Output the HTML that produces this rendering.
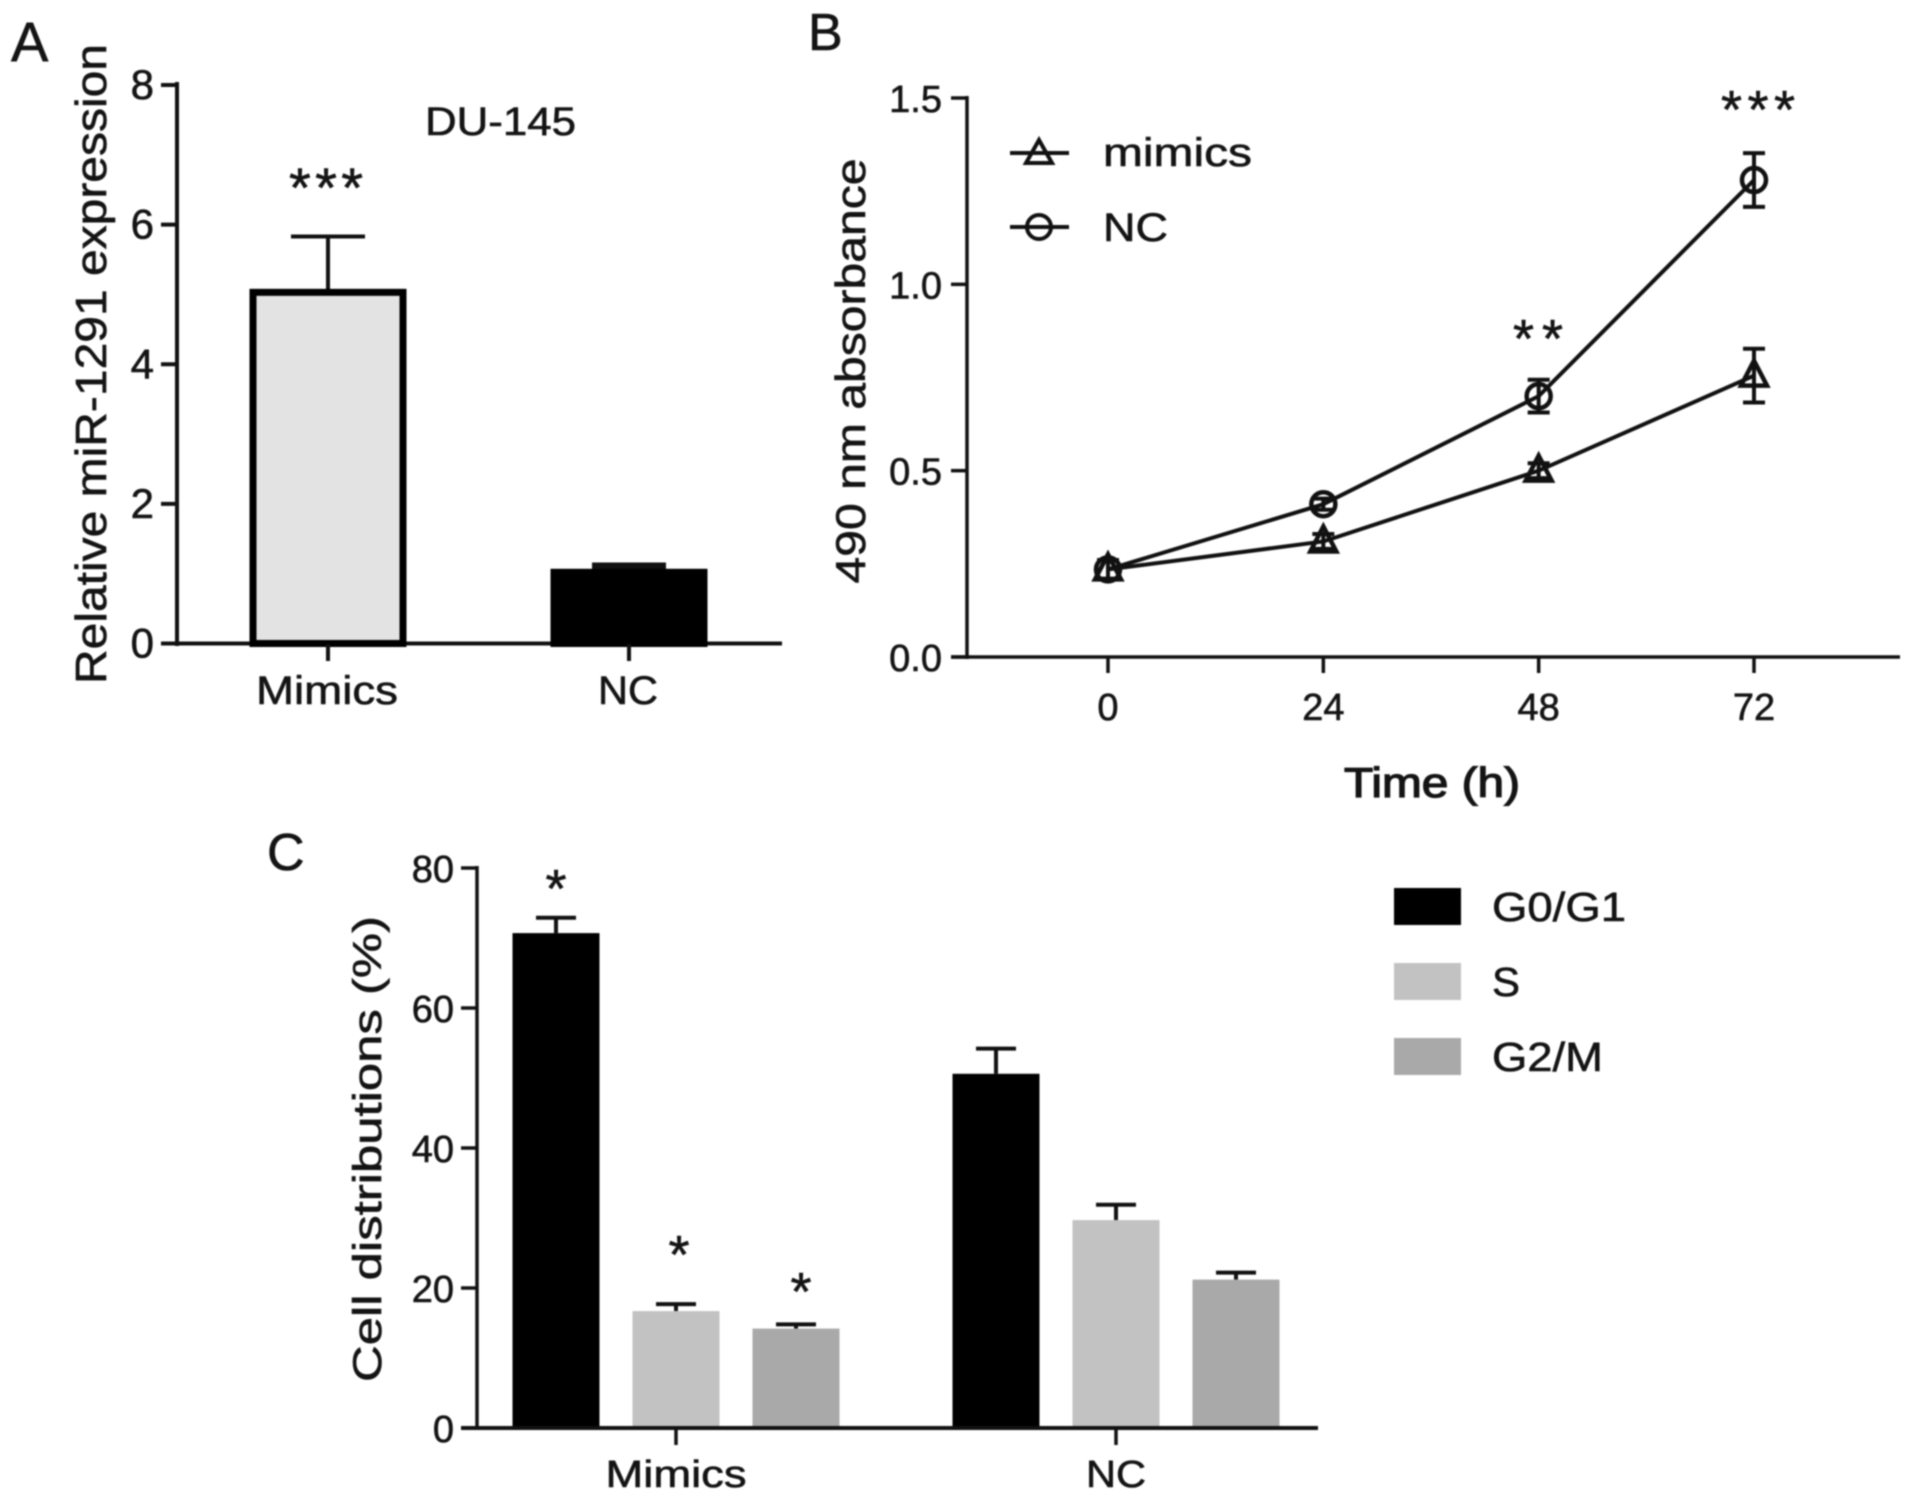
<!DOCTYPE html>
<html lang="en">
<head>
<meta charset="utf-8">
<title>miR-1291 figure</title>
<style>
html,body{margin:0;padding:0;background:#fff;}
svg{display:block;filter:blur(0.7px);}
text{font-family:"Liberation Sans",sans-serif;fill:#141414;stroke:#141414;stroke-width:0.6px;}
</style>
</head>
<body>
<svg id="fig" xmlns="http://www.w3.org/2000/svg" width="1913" height="1501" viewBox="0 0 1913 1501">
  <rect x="0" y="0" width="1913" height="1501" fill="#fff"/>
  <text x="11" y="61" font-size="56">A</text>
  <text x="808" y="50" font-size="52">B</text>
  <text x="267" y="870" font-size="52">C</text>

  <text transform="translate(106,364) rotate(-90)" text-anchor="middle" font-size="44" textLength="640" lengthAdjust="spacingAndGlyphs">Relative miR-1291 expression</text>
  <text x="425" y="135" font-size="40" textLength="151" lengthAdjust="spacingAndGlyphs">DU-145</text>
  <text x="326" y="207" font-size="56" text-anchor="middle" textLength="74" lengthAdjust="spacing">***</text>

  <text transform="translate(865,371) rotate(-90)" text-anchor="middle" font-size="42" textLength="425" lengthAdjust="spacingAndGlyphs">490 nm absorbance</text>
  <text x="1344" y="797" font-size="42" style="stroke-width:1.3px" textLength="176" lengthAdjust="spacingAndGlyphs">Time (h)</text>
  <text x="1538" y="357" font-size="54" text-anchor="middle" textLength="50" lengthAdjust="spacing">**</text>
  <text x="1758" y="128" font-size="54" text-anchor="middle" textLength="74" lengthAdjust="spacing">***</text>
  <line x1="1010" y1="153" x2="1069" y2="153" stroke="#111" stroke-width="4"/>
  <polygon points="1039,140 1052,163 1026,163" fill="none" stroke="#111" stroke-width="4"/>
  <text x="1103" y="166" font-size="40" textLength="149" lengthAdjust="spacingAndGlyphs">mimics</text>
  <line x1="1010" y1="227" x2="1069" y2="227" stroke="#111" stroke-width="4"/>
  <circle cx="1039" cy="227" r="12" fill="none" stroke="#111" stroke-width="4"/>
  <text x="1103" y="241" font-size="40" textLength="65" lengthAdjust="spacingAndGlyphs">NC</text>

  <text transform="translate(381,1149) rotate(-90)" text-anchor="middle" font-size="40" textLength="466" lengthAdjust="spacingAndGlyphs">Cell distributions (%)</text>
  <text x="556" y="907" font-size="54" text-anchor="middle">*</text>
  <text x="679" y="1273" font-size="54" text-anchor="middle">*</text>
  <text x="801" y="1310" font-size="54" text-anchor="middle">*</text>

  <rect x="1394" y="888" width="67" height="37" fill="#000"/>
  <text x="1492" y="921" font-size="41" textLength="134" lengthAdjust="spacingAndGlyphs">G0/G1</text>
  <rect x="1394" y="963" width="67" height="37" fill="#c2c2c2"/>
  <text x="1492" y="996" font-size="41" textLength="28" lengthAdjust="spacingAndGlyphs">S</text>
  <rect x="1394" y="1038" width="67" height="37" fill="#a9a9a9"/>
  <text x="1492" y="1071" font-size="41" textLength="111" lengthAdjust="spacingAndGlyphs">G2/M</text>
</svg>
<script>
// Panel A data
const aCategories = ['Mimics', 'NC'];
const aValues = [5.03, 1.02];
const aErrors = [0.80, 0.09];
const aFills = ['#e3e3e3', '#000000'];
const aTicks = [0, 2, 4, 6, 8];

// Panel B data
const bHours = [0, 24, 48, 72];
const bMimics = [0.235, 0.31, 0.50, 0.755];
const bMimicsErr = [0.025, 0.02, 0.02, 0.072];
const bNC = [0.235, 0.41, 0.70, 1.28];
const bNCErr = [0.025, 0.015, 0.044, 0.072];
const bTicks = ['0.0', '0.5', '1.0', '1.5'];

// Panel C data
const cGroups = ['Mimics', 'NC'];
const cG0G1 = [70.7, 50.6];
const cS = [16.7, 29.7];
const cG2M = [14.2, 21.2];
const cG0G1Err = [2.2, 3.6];
const cSErr = [1.0, 2.2];
const cG2MErr = [0.6, 1.0];
const cTicks = [0, 20, 40, 60, 80];

const svg = document.getElementById('fig');
const NS = 'http://www.w3.org/2000/svg';
function add(tag, props, txt) {
  const e = document.createElementNS(NS, tag);
  for (const k in props) e.setAttribute(k, props[k]);
  if (txt !== undefined) e.textContent = txt;
  svg.appendChild(e);
  return e;
}
function line(x1, y1, x2, y2, w) {
  return add('line', {x1: x1, y1: y1, x2: x2, y2: y2, stroke: '#111', 'stroke-width': w});
}

// ---------- Panel A ----------
const ay = v => 643.5 - v * (643.5 - 85) / 8;
const aBarX = i => 328 + i * 301;
const aAxisY = line(177, 82, 177, 646, 4);


const aAxisX = line(161, 643.5, 782, 643.5, 4);


aTicks.forEach(t => {
  const tk = line(161, ay(t), 177, ay(t), 4);
  
  
  const lb = add('text', {x: 154, y: ay(t) + 14, 'font-size': 42, 'text-anchor': 'end'}, String(t));
  
  
});
aCategories.forEach((c, i) => {
  const cx = aBarX(i);
  const errW = i === 0 ? 4 : 7;
  const er = line(cx, ay(aValues[i]), cx, ay(aValues[i] + aErrors[i]), errW);
  
  
  const cp = line(cx - 37, ay(aValues[i] + aErrors[i]), cx + 37, ay(aValues[i] + aErrors[i]), errW);
  
  
  const bar = add('rect', {x: cx - 75, y: ay(aValues[i]), width: 150, height: ay(0) - ay(aValues[i]), fill: aFills[i], stroke: '#000', 'stroke-width': 7});
  
  
  const tk = line(cx, 644, cx, 661, 4);
  
  
  const lb = add('text', {x: cx - 1, y: 704, 'font-size': 40, 'text-anchor': 'middle', textLength: i === 0 ? 142 : 60, lengthAdjust: 'spacingAndGlyphs'}, c);
  
  
});

// ---------- Panel B ----------
const bx = h => 1108 + h * (1754 - 1108) / 72;
const by = v => 657 - v * (657 - 98) / 1.5;
const bAxisY = line(967, 96, 967, 659, 3.5);


const bAxisX = line(951, 657, 1900, 657, 3.5);


bTicks.forEach(t => {
  const tk = line(951, by(+t), 967, by(+t), 3.5);
  
  
  const lb = add('text', {x: 942, y: by(+t) + 14, 'font-size': 38, 'text-anchor': 'end'}, t);
  
  
});
bHours.forEach(h => {
  const tk = line(bx(h), 657, bx(h), 673, 3.5);
  
  
  const lb = add('text', {x: bx(h), y: 720, 'font-size': 38, 'text-anchor': 'middle'}, String(h));
  
  
});
const mimicsLine = add('polyline', {points: bHours.map((h, i) => bx(h) + ',' + by(bMimics[i])).join(' '), fill: 'none', stroke: '#111', 'stroke-width': 4});


const ncLine = add('polyline', {points: bHours.map((h, i) => bx(h) + ',' + by(bNC[i])).join(' '), fill: 'none', stroke: '#111', 'stroke-width': 4});


function errB(h, v, e) {
  const s = line(bx(h), by(v + e), bx(h), by(v - e), 4);
  
  
  const c1 = line(bx(h) - 11, by(v + e), bx(h) + 11, by(v + e), 4);
  
  
  const c2 = line(bx(h) - 11, by(v - e), bx(h) + 11, by(v - e), 4);
  
  
}
bHours.forEach((h, i) => {
  errB(h, bMimics[i], bMimicsErr[i]);
  const x = bx(h), y = by(bMimics[i]);
  const tri = add('polygon', {points: x + ',' + (y - 15) + ' ' + (x + 13) + ',' + (y + 10) + ' ' + (x - 13) + ',' + (y + 10), fill: 'none', stroke: '#111', 'stroke-width': 4.5});
  
  
});
bHours.forEach((h, i) => {
  errB(h, bNC[i], bNCErr[i]);
  const c = add('circle', {cx: bx(h), cy: by(bNC[i]), r: 12, fill: 'none', stroke: '#111', 'stroke-width': 4.5});
  
  
});

// ---------- Panel C ----------
const cy = v => 1428 - v * (1428 - 868) / 80;
const cGroupX = i => 676 + i * 440;
const cSeries = [cG0G1, cS, cG2M];
const cSeriesErr = [cG0G1Err, cSErr, cG2MErr];
const cFills = ['#000000', '#c2c2c2', '#a9a9a9'];
const cAxisY = line(477, 866, 477, 1430, 3.5);


cTicks.forEach(t => {
  const tk = line(461, cy(t), 477, cy(t), 3.5);
  
  
  const lb = add('text', {x: 454, y: cy(t) + 14, 'font-size': 38, 'text-anchor': 'end'}, String(t));
  
  
});
cGroups.forEach((g, gi) => {
  cSeries.forEach((vals, si) => {
    const cx = cGroupX(gi) + (si - 1) * 120;
    const top = cy(vals[gi] + cSeriesErr[si][gi]);
    const er = line(cx, cy(vals[gi]), cx, top, 4);
    
    
    const cp = line(cx - 20, top, cx + 20, top, 4);
    
    
    const bar = add('rect', {x: cx - 43.5, y: cy(vals[gi]), width: 87, height: cy(0) - cy(vals[gi]), fill: cFills[si]});
    
    
  });
  const tk = line(cGroupX(gi), 1428, cGroupX(gi), 1445, 3.5);
  
  
  const lb = add('text', {x: cGroupX(gi), y: 1487, 'font-size': 38, 'text-anchor': 'middle', textLength: gi === 0 ? 141 : 60, lengthAdjust: 'spacingAndGlyphs'}, g);
  
  
});
const cAxisX = line(461, 1428, 1318, 1428, 4);


</script>
</body>
</html>
